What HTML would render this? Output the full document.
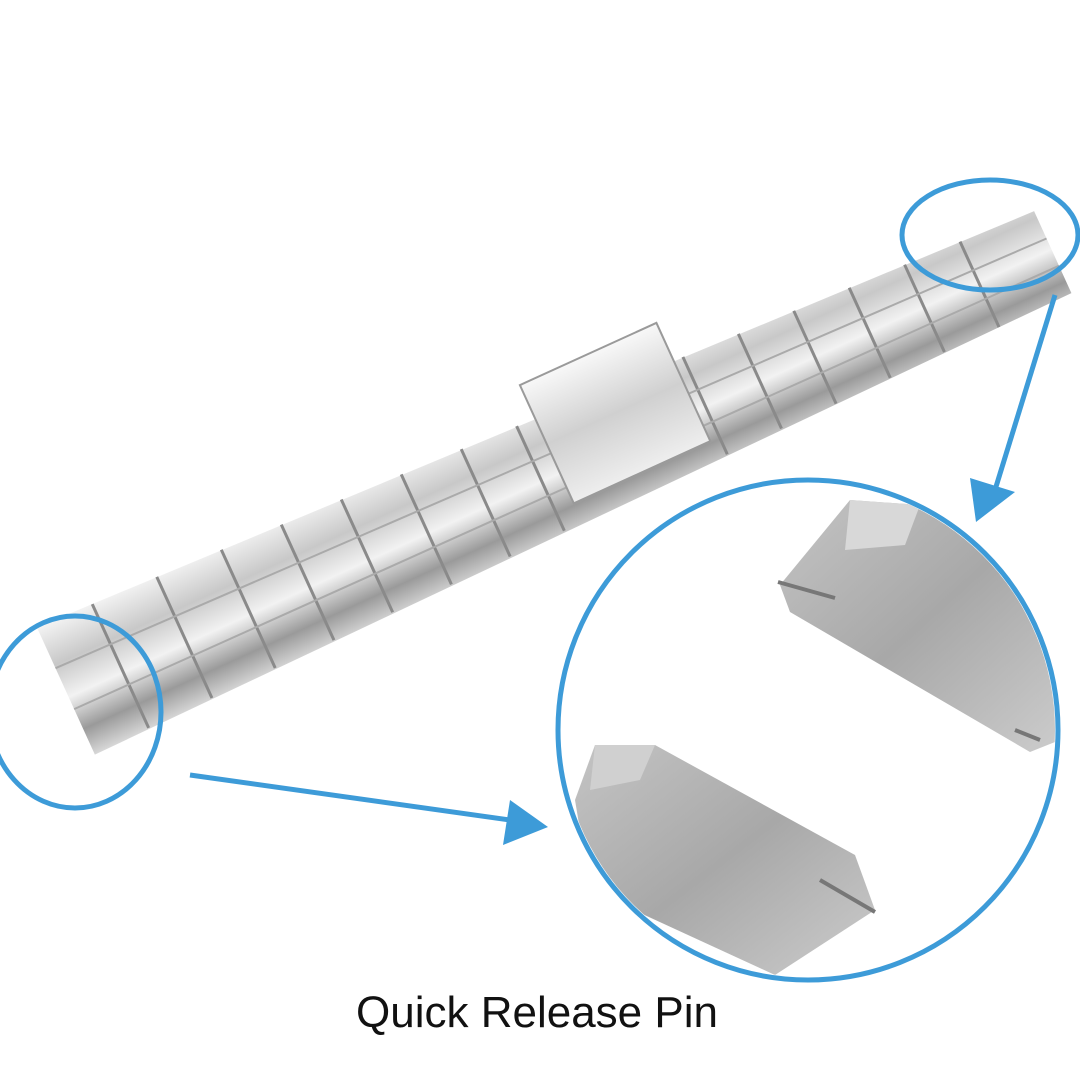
<!DOCTYPE html>
<html><head><style>
html,body{margin:0;padding:0;background:#fff;}
svg{display:block}
</style></head><body>
<svg width="1080" height="1080" viewBox="0 0 1080 1080" xmlns="http://www.w3.org/2000/svg">
<defs>
<linearGradient id="band" x1="0" y1="0" x2="0" y2="1">
<stop offset="0" stop-color="#f4f4f4"/><stop offset="0.3" stop-color="#c8c8c8"/><stop offset="0.55" stop-color="#f2f2f2"/><stop offset="0.8" stop-color="#9a9a9a"/><stop offset="1" stop-color="#d8d8d8"/>
</linearGradient>
<linearGradient id="metal" x1="0" y1="0" x2="1" y2="1">
<stop offset="0" stop-color="#c4c4c4"/><stop offset="0.5" stop-color="#a8a8a8"/><stop offset="1" stop-color="#cccccc"/>
</linearGradient>
<linearGradient id="clasp" x1="0" y1="0" x2="0" y2="1">
<stop offset="0" stop-color="#f8f8f8"/><stop offset="0.5" stop-color="#d0d0d0"/><stop offset="1" stop-color="#eeeeee"/>
</linearGradient>
</defs>
<g transform="translate(70,700) rotate(-24.5)">
  <polygon points="0,-80 1080,-45 1080,45 0,60" fill="url(#band)"/>
  <g stroke="#8a8a8a" stroke-width="3">
    <line x1="60" y1="-78" x2="60" y2="58"/><line x1="130" y1="-76" x2="130" y2="57"/>
    <line x1="200" y1="-74" x2="200" y2="56"/><line x1="265" y1="-72" x2="265" y2="55"/>
    <line x1="330" y1="-70" x2="330" y2="54"/><line x1="395" y1="-68" x2="395" y2="53"/>
    <line x1="460" y1="-66" x2="460" y2="52"/><line x1="520" y1="-64" x2="520" y2="51"/>
    <line x1="700" y1="-58" x2="700" y2="49"/><line x1="760" y1="-56" x2="760" y2="48"/>
    <line x1="820" y1="-54" x2="820" y2="48"/><line x1="880" y1="-52" x2="880" y2="47"/>
    <line x1="940" y1="-50" x2="940" y2="46"/><line x1="1000" y1="-48" x2="1000" y2="46"/>
  </g>
  <g stroke="#aaaaaa" stroke-width="2">
    <line x1="0" y1="-35" x2="1080" y2="-15"/><line x1="0" y1="10" x2="1080" y2="15"/>
  </g>
  <rect x="540" y="-100" width="150" height="130" fill="url(#clasp)" stroke="#9a9a9a" stroke-width="2"/>
</g>
<g fill="none" stroke="#3d9bd8" stroke-width="5">
  <ellipse cx="990" cy="235" rx="88" ry="55"/>
  <ellipse cx="75" cy="712" rx="86" ry="96"/>
  <circle cx="808" cy="730" r="250"/>
</g>
<g stroke="#3d9bd8" stroke-width="5" fill="#3d9bd8">
  <line x1="1055" y1="295" x2="995" y2="490"/>
  <polygon points="976,522 970,478 1015,492" stroke="none"/>
  <line x1="190" y1="775" x2="510" y2="820"/>
  <polygon points="548,827 503,845 510,800" stroke="none"/>
</g>
<clipPath id="cc"><circle cx="808" cy="730" r="247"/></clipPath>
<g clip-path="url(#cc)">
  <polygon points="780,585 850,500 920,505 1060,590 1060,740 1030,752 790,612" fill="url(#metal)"/>
  <polygon points="850,500 920,505 905,545 845,550" fill="#d8d8d8"/>
  <line x1="778" y1="582" x2="835" y2="598" stroke="#777" stroke-width="4"/>
  <line x1="1015" y1="730" x2="1040" y2="740" stroke="#777" stroke-width="4"/>
  <polygon points="575,800 595,745 655,745 855,855 875,910 775,975 590,890" fill="url(#metal)"/>
  <polygon points="595,745 655,745 640,780 590,790" fill="#d0d0d0"/>
  <line x1="820" y1="880" x2="875" y2="912" stroke="#777" stroke-width="4"/>
</g>
<text x="537" y="1027" font-family="Liberation Sans, sans-serif" font-size="44" text-anchor="middle" fill="#111">Quick Release Pin</text>
</svg>
</body></html>
